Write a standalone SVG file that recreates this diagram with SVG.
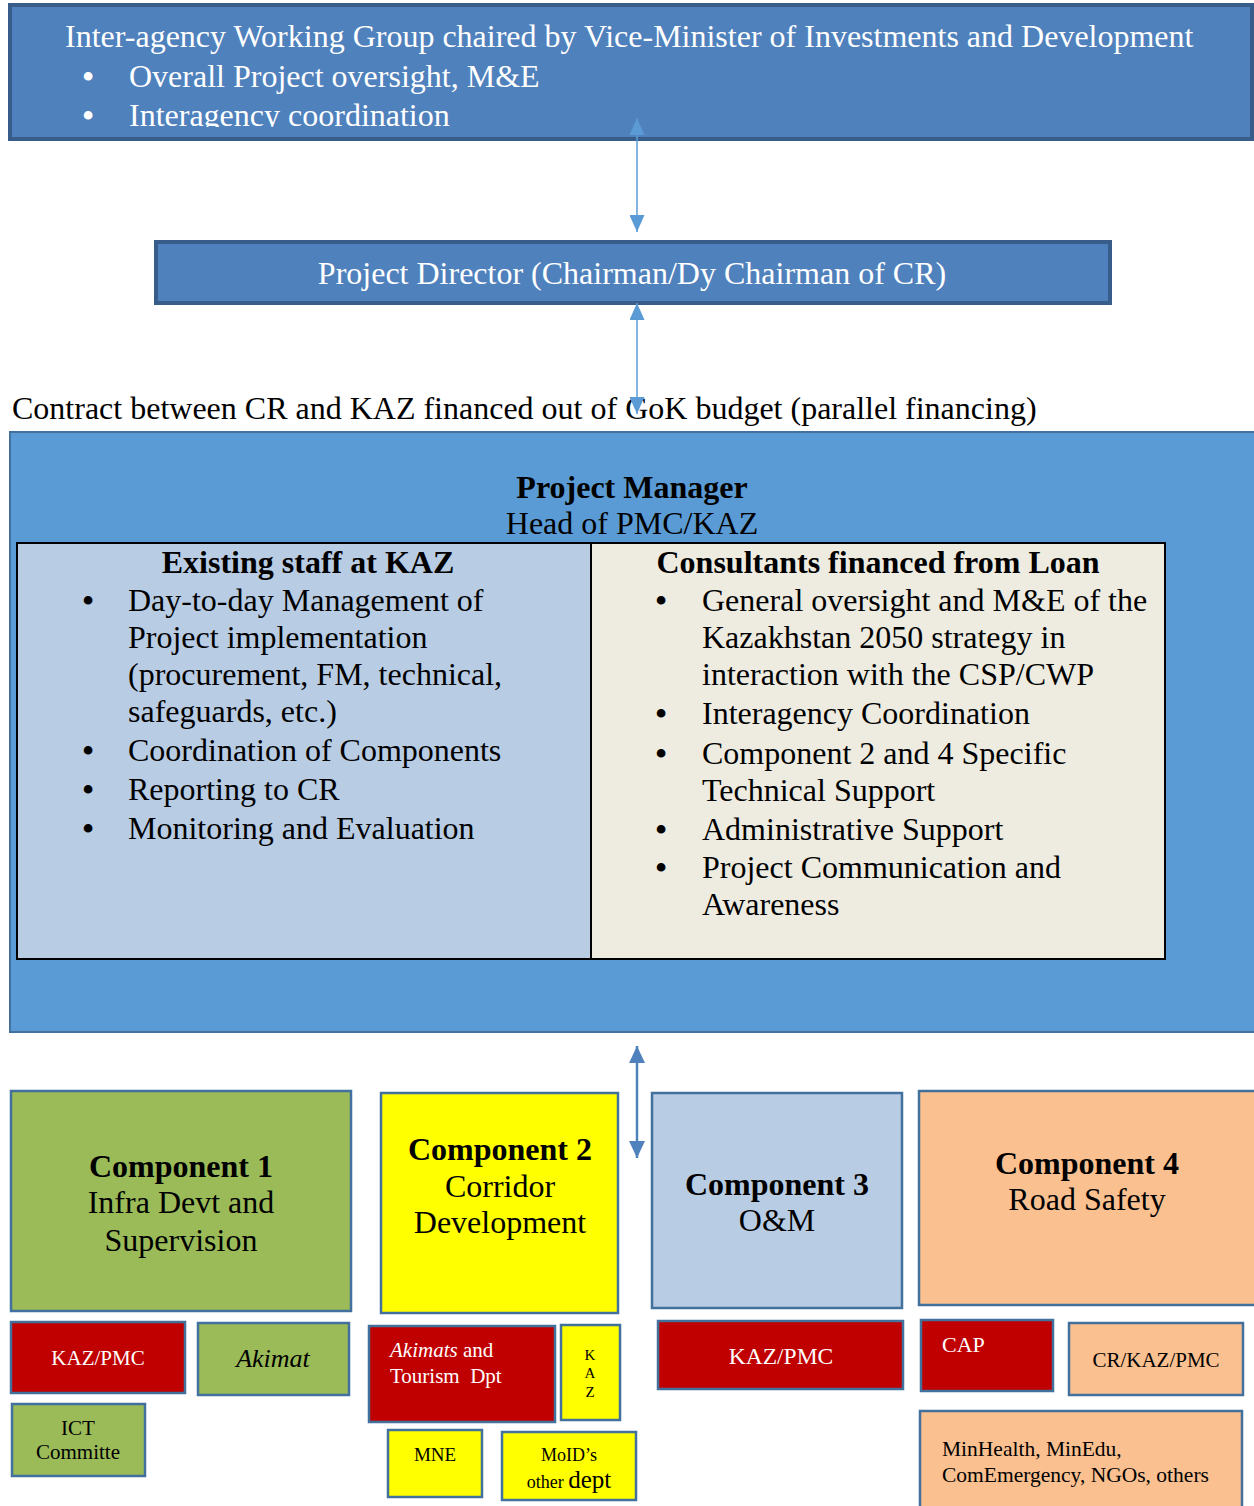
<svg xmlns="http://www.w3.org/2000/svg" width="1254" height="1506" viewBox="0 0 1254 1506">
<style>
text{font-family:"Liberation Serif","Times New Roman",serif;}
.w{fill:#fff;}
.k{fill:#000;}
.b{font-weight:bold;}
.c{text-anchor:middle;}
.bl{font-size:32px;font-weight:bold;text-anchor:middle;}
.hdr{fill:#4F81BD;stroke:#385D8A;stroke-width:4;}
.box{stroke:#41719C;stroke-width:2.5;}
.red{fill:#C00000;}
.grn{fill:#9BBB59;}
.yel{fill:#FFFF00;}
.lbl{fill:#B8CCE4;}
.org{fill:#FAC090;}
.conn{stroke:#5B9BD5;stroke-width:1.5;fill:none;}
.conn2{stroke:#4F81BD;stroke-width:2.5;fill:none;}
</style>
<defs>
<clipPath id="topclip"><rect x="12" y="7" width="1238" height="120"/></clipPath>
<marker id="ah" viewBox="0 0 10 10" refX="10" refY="5" markerWidth="17" markerHeight="15" markerUnits="userSpaceOnUse" orient="auto-start-reverse" preserveAspectRatio="none"><path d="M0,0 L10,5 L0,10 z" fill="#5B9BD5"/></marker>
<marker id="ah2" viewBox="0 0 10 10" refX="10" refY="5" markerWidth="17" markerHeight="16" markerUnits="userSpaceOnUse" orient="auto-start-reverse" preserveAspectRatio="none"><path d="M0,0 L10,5 L0,10 z" fill="#4F81BD"/></marker>
</defs>

<g id="iawg">
<rect class="hdr" x="10" y="5" width="1242" height="134"/>
<g clip-path="url(#topclip)" font-size="32">
<text class="w" x="65" y="47">Inter-agency Working Group chaired by Vice-Minister of Investments and Development</text>
<text class="w bl" x="88" y="87">•</text>
<text class="w" x="129" y="87">Overall Project oversight, M&amp;E</text>
<text class="w bl" x="88" y="126">•</text>
<text class="w" x="129" y="126">Interagency coordination</text>
</g>
</g>

<g id="director">
<rect class="hdr" x="156" y="242" width="954" height="61"/>
<text class="w c" x="632" y="284" font-size="32">Project Director (Chairman/Dy Chairman of CR)</text>
</g>

<g id="contract">
<text class="k" x="12" y="419" font-size="32">Contract between CR and KAZ financed out of GoK budget (parallel financing)</text>
</g>

<g id="pm">
<rect x="10" y="432" width="1250" height="600" fill="#5B9BD5" stroke="#41719C" stroke-width="2"/>
<text class="k b c" x="632" y="498" font-size="32">Project Manager</text>
<text class="k c" x="632" y="534" font-size="32">Head of PMC/KAZ</text>
<rect x="17" y="543" width="574" height="416" fill="#B8CCE4"/>
<rect x="591" y="543" width="574" height="416" fill="#EEECE1"/>
<rect x="17" y="543" width="1148" height="416" fill="none" stroke="#000" stroke-width="2"/>
<line x1="591" y1="543" x2="591" y2="959" stroke="#000" stroke-width="2"/>
<g font-size="32">
<text class="k b c" x="308" y="573">Existing staff at KAZ</text>
<text class="k bl" x="88" y="611">•</text>
<text class="k" x="128" y="611">Day-to-day Management of</text>
<text class="k" x="128" y="648">Project implementation</text>
<text class="k" x="128" y="685">(procurement, FM, technical,</text>
<text class="k" x="128" y="722">safeguards, etc.)</text>
<text class="k bl" x="88" y="761">•</text>
<text class="k" x="128" y="761">Coordination of Components</text>
<text class="k bl" x="88" y="800">•</text>
<text class="k" x="128" y="800">Reporting to CR</text>
<text class="k bl" x="88" y="839">•</text>
<text class="k" x="128" y="839">Monitoring and Evaluation</text>

<text class="k b c" x="878" y="573">Consultants financed from Loan</text>
<text class="k bl" x="661" y="611">•</text>
<text class="k" x="702" y="611">General oversight and M&amp;E of the</text>
<text class="k" x="702" y="648">Kazakhstan 2050 strategy in</text>
<text class="k" x="702" y="685">interaction with the CSP/CWP</text>
<text class="k bl" x="661" y="724">•</text>
<text class="k" x="702" y="724">Interagency Coordination</text>
<text class="k bl" x="661" y="764">•</text>
<text class="k" x="702" y="764">Component 2 and 4 Specific</text>
<text class="k" x="702" y="801">Technical Support</text>
<text class="k bl" x="661" y="840">•</text>
<text class="k" x="702" y="840">Administrative Support</text>
<text class="k bl" x="661" y="878">•</text>
<text class="k" x="702" y="878">Project Communication and</text>
<text class="k" x="702" y="915">Awareness</text>
</g>
</g>

<g id="comp1">
<rect class="box grn" x="11" y="1091" width="340" height="220"/>
<text class="k b c" x="181" y="1177" font-size="32">Component 1</text>
<text class="k c" x="181" y="1213" font-size="32">Infra Devt and</text>
<text class="k c" x="181" y="1251" font-size="32">Supervision</text>
</g>
<g id="comp2">
<rect class="box yel" x="381" y="1093" width="237" height="220"/>
<text class="k b c" x="500" y="1160" font-size="32">Component 2</text>
<text class="k c" x="500" y="1197" font-size="32">Corridor</text>
<text class="k c" x="500" y="1233" font-size="32">Development</text>
</g>
<g id="comp3">
<rect class="box lbl" x="652" y="1093" width="250" height="215"/>
<text class="k b c" x="777" y="1195" font-size="32">Component 3</text>
<text class="k c" x="777" y="1231" font-size="32">O&amp;M</text>
</g>
<g id="comp4">
<rect class="box org" x="919" y="1091" width="340" height="214"/>
<text class="k b c" x="1087" y="1174" font-size="32">Component 4</text>
<text class="k c" x="1087" y="1210" font-size="32">Road Safety</text>
</g>

<g id="c1-kazpmc">
<rect class="box red" x="11" y="1322" width="174" height="71"/>
<text class="w c" x="98" y="1365" font-size="21">KAZ/PMC</text>
</g>
<g id="c1-akimat">
<rect class="box grn" x="198" y="1323" width="151" height="72"/>
<text class="k c" x="273" y="1367" font-size="26" font-style="italic">Akimat</text>
</g>
<g id="c1-ict">
<rect class="box grn" x="12" y="1404" width="133" height="72"/>
<text class="k c" x="78" y="1435" font-size="21">ICT</text>
<text class="k c" x="78" y="1459" font-size="21">Committe</text>
</g>

<g id="c2-akimats">
<rect class="box red" x="369" y="1326" width="186" height="96"/>
<text class="w" x="390" y="1357" font-size="21"><tspan font-style="italic">Akimats</tspan> and</text>
<text class="w" x="390" y="1383" font-size="21" xml:space="preserve">Tourism  Dpt</text>
</g>
<g id="c2-kaz">
<rect class="box yel" x="561" y="1325" width="59" height="95"/>
<text class="k c" x="590" y="1360" font-size="15">K</text>
<text class="k c" x="590" y="1378" font-size="15">A</text>
<text class="k c" x="590" y="1397" font-size="15">Z</text>
</g>
<g id="c2-mne">
<rect class="box yel" x="388" y="1430" width="94" height="67"/>
<text class="k c" x="435" y="1461" font-size="19">MNE</text>
</g>
<g id="c2-moid">
<rect class="box yel" x="502" y="1432" width="134" height="68"/>
<text class="k c" x="569" y="1461" font-size="18">MoID’s</text>
<text class="k c" x="569" y="1488" font-size="18">other <tspan font-size="25">dept</tspan></text>
</g>

<g id="c3-kazpmc">
<rect class="box red" x="658" y="1321" width="245" height="68"/>
<text class="w c" x="781" y="1364" font-size="23.5">KAZ/PMC</text>
</g>

<g id="c4-cap">
<rect class="box red" x="921" y="1320" width="132" height="71"/>
<text class="w" x="942" y="1352" font-size="22">CAP</text>
</g>
<g id="c4-crkaz">
<rect class="box org" x="1069" y="1323" width="174" height="72"/>
<text class="k c" x="1156" y="1367" font-size="21">CR/KAZ/PMC</text>
</g>
<g id="c4-others">
<rect class="box org" x="920" y="1411" width="322" height="100"/>
<text class="k" x="942" y="1456" font-size="21.5">MinHealth, MinEdu,</text>
<text class="k" x="942" y="1482" font-size="21.5">ComEmergency, NGOs, others</text>
</g>

<g id="connectors">
<line class="conn" x1="637" y1="118" x2="637" y2="232" marker-start="url(#ah)" marker-end="url(#ah)"/>
<line class="conn" x1="637" y1="303" x2="637" y2="414" marker-start="url(#ah)" marker-end="url(#ah)"/>
<line class="conn2" x1="637" y1="1046" x2="637" y2="1158" marker-start="url(#ah2)" marker-end="url(#ah2)"/>
</g>
</svg>
